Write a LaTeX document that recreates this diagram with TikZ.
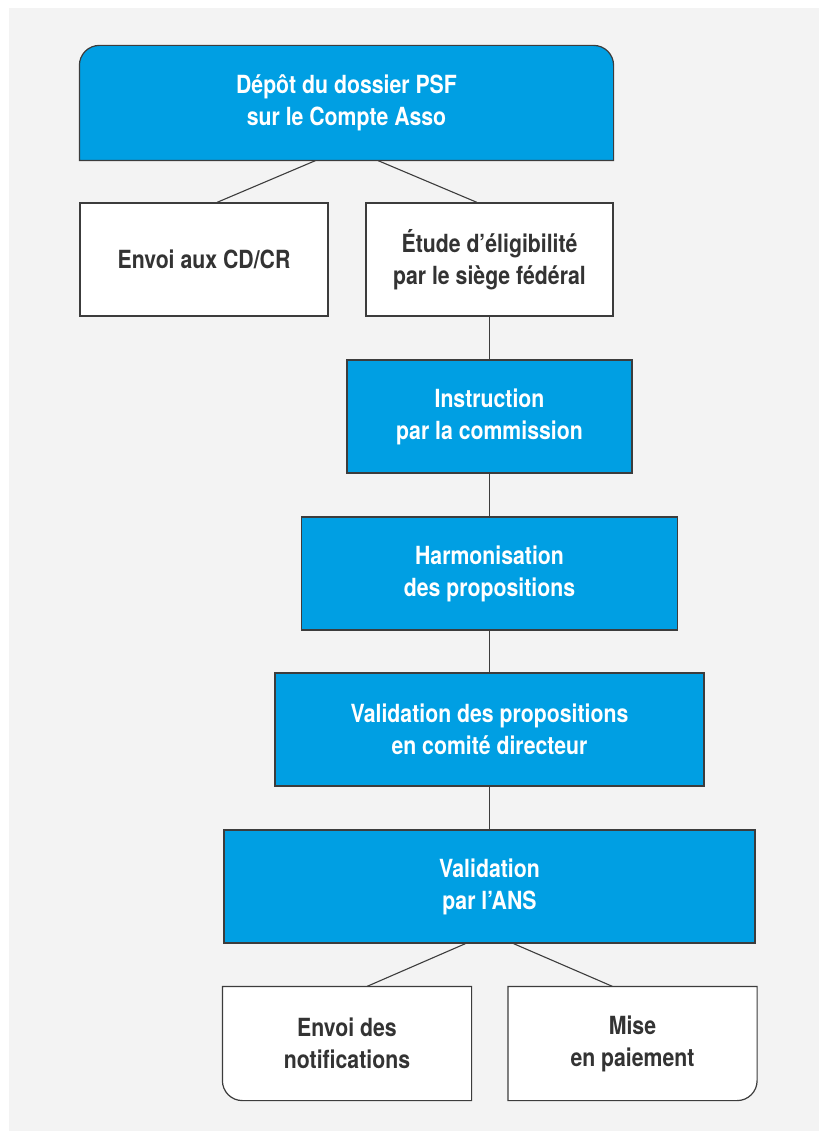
\documentclass[tikz,border=0pt]{standalone}
\usepackage{fontspec}
\newfontfamily\boxfont[FakeStretch=0.85]{TeX Gyre Heros}
\usepackage{tikz}
\usetikzlibrary{positioning}
\usetikzlibrary{backgrounds}

\definecolor{psfblue}{HTML}{009FE3}
\definecolor{panelgray}{HTML}{F3F3F3}
\definecolor{linegray}{HTML}{3C3C3C}
\definecolor{textgray}{HTML}{333333}

\tikzset{
  box/.style={draw=linegray, line width=1.2pt, minimum height=113pt, inner sep=0pt,
    align=center, font=\boxfont\bfseries\fontsize{25}{32}\selectfont},
  bluebox/.style={box, fill=psfblue, text=white},
  whitebox/.style={box, fill=white, text=textgray},
  link/.style={draw=linegray, line width=1.1pt}
}

\begin{document}
\begin{tikzpicture}[x=1pt, y=-1pt]
\useasboundingbox (0,0) rectangle (819,1131);

%top box
\node[box, draw=none, text=white, minimum width=533pt, minimum height=114pt] (depot) at (346.5,103)
  {Dépôt du dossier PSF\\sur le Compte Asso};

%second row
\node[whitebox, minimum width=248pt] (envoi) at (204,259.5) {Envoi aux CD/CR};
\node[whitebox, minimum width=247pt] (etude) at (489.5,259.5) {Étude d’éligibilité\\par le siège fédéral};

%blue steps
\node[bluebox, minimum width=285pt] (instr) at (489.5,416.5) {Instruction\\par la commission};
\node[bluebox, minimum width=376pt] (harmo) at (489.5,573.5) {Harmonisation\\des propositions};
\node[bluebox, minimum width=429pt] (comite) at (489.5,729.5) {Validation des propositions\\en comité directeur};
\node[bluebox, minimum width=531pt] (ans) at (489.5,886.5) {Validation\\par l’ANS};

%bottom row
\node[box, draw=none, text=textgray, minimum width=248pt] (notif) at (347,1043.5) {Envoi des\\notifications};
\node[box, draw=none, text=textgray, minimum width=248pt] (paie) at (632.5,1043.5) {Mise\\en paiement};

\begin{scope}[on background layer]
%panel
\fill[panelgray] (9,8) rectangle (819,1131);
%rounded shapes
\draw[link, line width=1.2pt, fill=psfblue] (depot.south west) [rounded corners=20pt] -- (depot.north west)
  -- (depot.north east) [sharp corners] -- (depot.south east) -- cycle;
\draw[link, line width=1.2pt, fill=white] (notif.north west) -- (notif.north east) -- (notif.south east)
  [rounded corners=20pt] -- (notif.south west) [sharp corners] -- cycle;
\draw[link, line width=1.2pt, fill=white] (paie.north west) -- (paie.north east)
  [rounded corners=20pt] -- (paie.south east) [sharp corners] -- (paie.south west) -- cycle;
\end{scope}

%links
\draw[link] ([xshift=-31pt]depot.south) -- ([xshift=13pt]envoi.north);
\draw[link] ([xshift=31.5pt]depot.south) -- ([xshift=-12.5pt]etude.north);
\draw[link] (etude.south) -- (instr.north);
\draw[link] (instr.south) -- (harmo.north);
\draw[link] (harmo.south) -- (comite.north);
\draw[link] (comite.south) -- (ans.north);
\draw[link] ([xshift=-24pt]ans.south) -- ([xshift=20pt]notif.north);
\draw[link] ([xshift=24pt]ans.south) -- ([xshift=-20pt]paie.north);

\end{tikzpicture}
\end{document}
